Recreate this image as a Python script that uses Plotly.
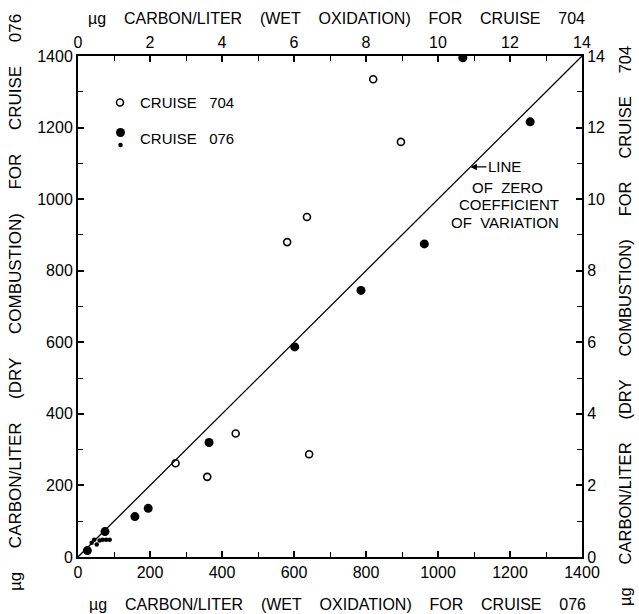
import plotly.graph_objects as go

# ---- data ----
# Cruise 704 (top / right axes, ug carbon/liter /100 scale 0-14)
c704_wet = [2.71, 3.59, 4.38, 5.81, 6.36, 6.42, 8.20, 8.97]
c704_dry = [2.62, 2.24, 3.45, 8.80, 9.50, 2.87, 13.35, 11.60]
# Cruise 076 (bottom / left axes, 0-1400)
c076_wet = [26, 75, 158, 195, 364, 602, 786, 962, 1069, 1256]
c076_dry = [18, 71, 113, 136, 320, 587, 745, 875, 1395, 1216]
# Cruise 076 small samples
c076s_wet = [38, 45, 52, 60, 68, 78, 88]
c076s_dry = [40, 48, 35, 46, 48, 48, 48]
# line of zero coefficient of variation
line_x = [0, 1400]
line_y = [0, 1400]

bottom_ticks = list(range(0, 1401, 200))
top_ticks = list(range(0, 15, 2))

FONT = "Liberation Sans, Arial, sans-serif"
W, H = 639, 614
L, R, T, B = 78, 57, 56, 57
PW, PH = W - L - R, H - T - B

def px(x):
    return (x - L) / PW

def py(y):
    return (H - B - y) / PH

fig = go.Figure()
fig.add_trace(go.Scatter(x=line_x, y=line_y, mode="lines",
                         line=dict(color="black", width=1.3),
                         showlegend=False, hoverinfo="skip"))
fig.add_trace(go.Scatter(x=c076_wet, y=c076_dry, mode="markers",
                         marker=dict(symbol="circle", size=9, color="black"),
                         showlegend=False))
fig.add_trace(go.Scatter(x=c076s_wet, y=c076s_dry, mode="markers",
                         marker=dict(symbol="circle", size=4.5, color="black"),
                         showlegend=False))
fig.add_trace(go.Scatter(x=c704_wet, y=c704_dry, mode="markers", xaxis="x2", yaxis="y2",
                         marker=dict(symbol="circle-open", size=7, color="black",
                                     line=dict(width=1.6, color="black")),
                         showlegend=False))

tickfont = dict(family=FONT, size=16, color="black")
common = dict(showgrid=False, zeroline=False, showline=True, linecolor="black",
              linewidth=2, ticks="inside", ticklen=6, tickwidth=1.5, tickcolor="black",
              tickfont=tickfont)
minor_big = dict(dtick=100, ticks="inside", ticklen=5, tickwidth=1.3, tickcolor="black", showgrid=False)
minor_small = dict(dtick=1, ticks="inside", ticklen=5, tickwidth=1.3, tickcolor="black", showgrid=False)

fig.update_layout(
    width=W, height=H,
    margin=dict(l=L, r=R, t=T, b=B, pad=0),
    paper_bgcolor="white", plot_bgcolor="white",
    font=dict(family=FONT, color="black"),
    xaxis=dict(range=[0, 1400], tickvals=bottom_ticks, minor=minor_big, **common),
    yaxis=dict(range=[0, 1400], tickvals=bottom_ticks, minor=minor_big, **common),
    xaxis2=dict(range=[0, 14], tickvals=top_ticks, overlaying="x", side="top",
                minor=minor_small, **common),
    yaxis2=dict(range=[0, 14], tickvals=top_ticks, overlaying="y", side="right",
                minor=minor_small, **common),
    showlegend=False,
)

NB = "\u00a0"
def title(cruise, kind, n):
    sp = NB * n
    return sp.join(["µg", "CARBON/LITER", kind.replace(" ", sp), "FOR", "CRUISE", cruise])

def ann(text, cx, cy, size=15, angle=0, xanchor="center"):
    return dict(text=text, x=px(cx), y=py(cy), xref="paper", yref="paper",
                showarrow=False, textangle=angle, xanchor=xanchor, yanchor="middle",
                font=dict(family=FONT, size=size, color="black"))

tf = dict(family=FONT, size=15, color="black")
anns = [
    ann(title("076", "(WET OXIDATION)", 4), 337, 604, size=16),
    ann(title("704", "(WET OXIDATION)", 4), 336, 18, size=16),
    ann(title("076", "(DRY COMBUSTION)", 5), 15, 303, size=17, angle=-90),
    ann(title("704", "(DRY COMBUSTION)", 5), 625, 326, size=16.5, angle=-90),
    # legend text
    ann("CRUISE" + NB * 3 + "704", 138, 102, xanchor="left"),
    ann("CRUISE" + NB * 3 + "076", 138, 138, xanchor="left"),
    # line note
    dict(text="LINE", x=1090, y=1090, xref="x", yref="y", showarrow=True,
         ax=16, ay=0, xanchor="left", yanchor="middle", arrowhead=2, arrowsize=1,
         arrowwidth=1.3, arrowcolor="black", standoff=0, font=tf),
]
for txt, cx, cy in [("OF" + NB * 2 + "ZERO", 507, 187), ("COEFFICIENT", 509, 204),
                    ("OF" + NB * 2 + "VARIATION", 505, 222)]:
    anns.append(ann(txt, cx, cy))
fig.update_layout(annotations=anns)

def circ(cx, cy, d, filled, lw=1.5):
    return dict(type="circle", xref="paper", yref="paper", xsizemode="pixel", ysizemode="pixel",
                xanchor=px(cx), yanchor=py(cy), x0=-d / 2, x1=d / 2, y0=-d / 2, y1=d / 2,
                line=dict(color="black", width=lw if not filled else 0),
                fillcolor="black" if filled else "rgba(0,0,0,0)")

fig.update_layout(shapes=[circ(120, 102.5, 7, False), circ(120.5, 132.5, 9, True),
                          circ(120.5, 145, 4.5, True)])

fig.write_html("out.html")
